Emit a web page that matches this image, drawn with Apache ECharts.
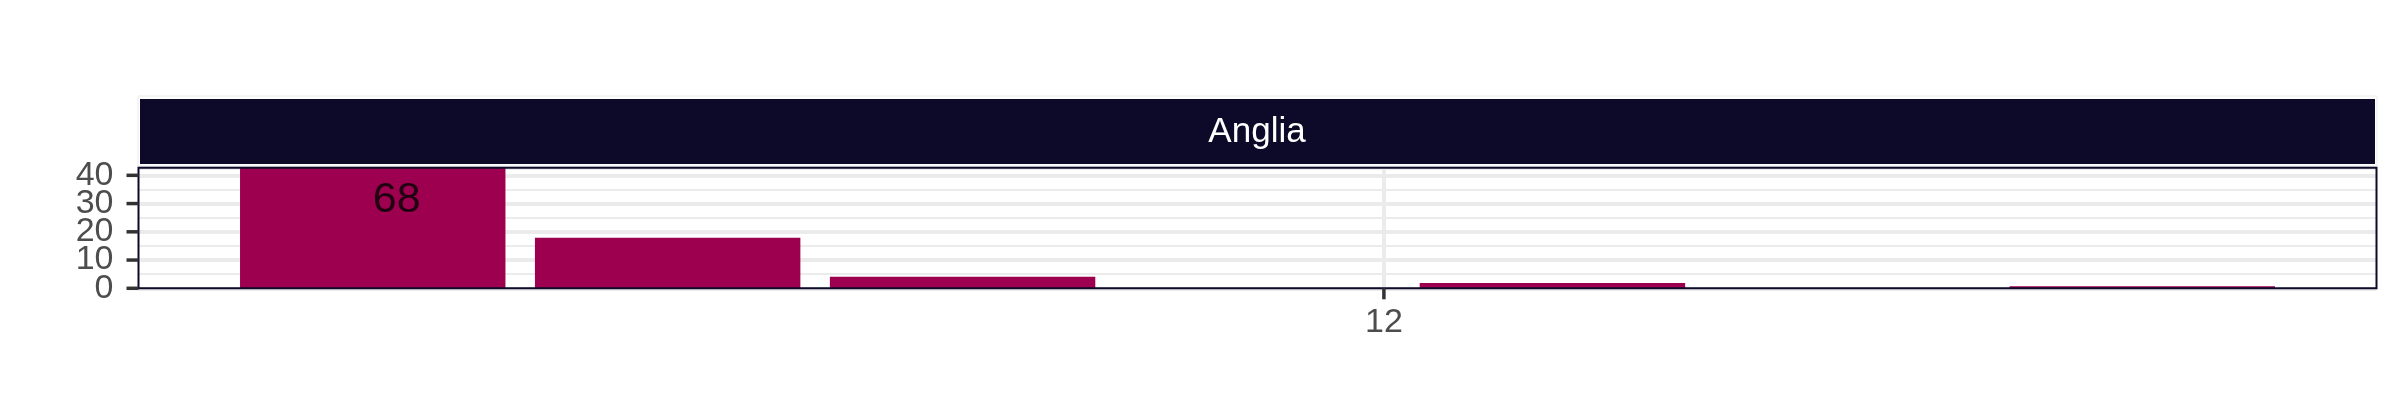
<!DOCTYPE html>
<html><head><meta charset="utf-8">
<script src="https://cdn.jsdelivr.net/npm/echarts@6/dist/echarts.min.js"></script>
<style>html,body{margin:0;padding:0;background:#fff}#c{width:2400px;height:420px}</style>
</head><body><div id="c"></div>
<script>
// ---- data ----
const facetTitle = 'Anglia';
const weeks = ['2020-11-07','2020-11-14','2020-11-21','2020-11-28','2020-12-05','2020-12-12','2020-12-19'];
const counts = [68, 17.9, 4.1, 0, 1.9, 0, 0.7];
const yTicks = [0, 10, 20, 30, 40];
const yMinorStep = 5;
const yMax = 42.7;
const xTickDates = ['2020-12-01'];
const xTickLabels = ['12'];
const xMin = '2020-11-01T10:34:00';
const xMax = '2020-12-24T13:26:00';
const labelText = ['68'];
const labelY = [31.3];

// ---- helpers ----
const t = s => new Date(s.length === 10 ? s + 'T00:00:00' : s).getTime();
const weekTimes = weeks.map(t);
const xTickTimes = xTickDates.map(t);

const FONT = 'Liberation Sans, Arial, Helvetica, sans-serif';
const GRID = '#EBEBEB';
const DARK = '#0D0A29';
const AXTXT = '#4D4D4D';
const TICK = '#333333';

const chart = echarts.init(document.getElementById('c'), null, {renderer: 'canvas'});
const baseGraphics = [
  {type: 'rect', shape: {x: 138, y: 96, width: 2239, height: 70},
   style: {fill: 'none', stroke: GRID, lineWidth: 1}, z: 0},
  {type: 'rect', shape: {x: 140, y: 99, width: 2235, height: 65},
   style: {fill: DARK}, z: 1},
  {type: 'text', x: 1257, y: 132,
   style: {text: facetTitle, fill: '#ffffff', fontSize: 35, fontFamily: FONT,
           align: 'center', verticalAlign: 'middle'}, z: 2}
];
chart.setOption({
  backgroundColor: '#ffffff',
  animation: false,
  grid: {left: 138.5, right: 23.5, top: 167.7, bottom: 131.7, show: true,
         borderColor: DARK, borderWidth: 2, backgroundColor: 'transparent', z: 3},
  xAxis: {
    type: 'value', min: t(xMin), max: t(xMax), scale: true,
    axisLine: {show: false}, splitLine: {show: false},
    axisTick: {show: false}, axisLabel: {show: false}
  },
  yAxis: [{
    type: 'value', min: 0, max: yMax, interval: yTicks[1] - yTicks[0],
    axisLine: {show: false}, axisTick: {show: false}, axisLabel: {show: false},
    splitLine: {show: true, lineStyle: {color: GRID, width: 4}}
  }, {
    type: 'value', min: 0, max: yMax, interval: yMinorStep,
    axisLine: {show: false}, axisTick: {show: false}, axisLabel: {show: false},
    splitLine: {show: true, lineStyle: {color: GRID, width: 2}}
  }],
  series: [{
    type: 'bar',
    yAxisIndex: 0,
    data: weekTimes.map((w, i) => [w, counts[i]]),
    barWidth: '90%',
    itemStyle: {color: '#9E0050'},
    clip: true,
    z: 2,
    markLine: {
      silent: true, symbol: 'none', z: 1,
      label: {show: false},
      lineStyle: {color: GRID, width: 4, type: 'solid'},
      data: xTickTimes.map(x => ({xAxis: x}))
    }
  }, {
    type: 'scatter',
    yAxisIndex: 0,
    symbolSize: 0,
    data: labelText.map((s, i) => ({value: [weekTimes[i], labelY[i]], name: s})),
    label: {show: true, position: 'inside', offset: [24, 0],
            formatter: p => p.name,
            fontSize: 43, fontFamily: FONT, color: '#000000'},
    z: 4
  }],
  graphic: baseGraphics
});

// axis ticks and labels placed through the library's scales
const axisX = chart.convertToPixel({xAxisIndex: 0}, t(xMin));
const axisY = chart.convertToPixel({yAxisIndex: 0}, 0);
const axGraphics = [];
yTicks.forEach(v => {
  const py = chart.convertToPixel({yAxisIndex: 0}, v);
  axGraphics.push({type: 'line', shape: {x1: axisX - 12, y1: py, x2: axisX, y2: py},
                   style: {stroke: TICK, lineWidth: 3.5}, z: 5});
  axGraphics.push({type: 'text', x: axisX - 25, y: py,
                   style: {text: String(v), fill: AXTXT, fontSize: 34, fontFamily: FONT,
                           align: 'right', verticalAlign: 'middle'}, z: 5});
});
xTickTimes.forEach((v, i) => {
  const px = chart.convertToPixel({xAxisIndex: 0}, v);
  axGraphics.push({type: 'line', shape: {x1: px, y1: axisY, x2: px, y2: axisY + 11},
                   style: {stroke: TICK, lineWidth: 3.5}, z: 5});
  axGraphics.push({type: 'text', x: px, y: axisY + 34,
                   style: {text: xTickLabels[i], fill: AXTXT, fontSize: 34, fontFamily: FONT,
                           align: 'center', verticalAlign: 'middle'}, z: 5});
});
chart.setOption({graphic: baseGraphics.concat(axGraphics)});
</script></body></html>
